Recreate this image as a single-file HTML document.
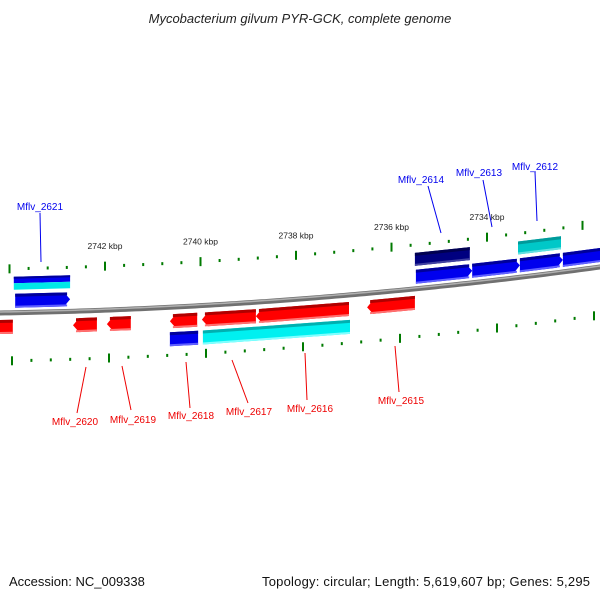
<!DOCTYPE html>
<html><head><meta charset="utf-8"><style>
body{margin:0;background:#fff;}
svg{display:block;font-family:"Liberation Sans","DejaVu Sans",sans-serif;}
</style></head><body>
<svg id="chart" width="600" height="600" viewBox="0 0 600 600" xmlns="http://www.w3.org/2000/svg">
<rect width="600" height="600" fill="#fff"/>
<text x="300" y="23" text-anchor="middle" font-size="13" font-style="italic" fill="#222">Mycobacterium gilvum PYR-GCK, complete genome</text>
<text x="9" y="586" font-size="13" fill="#111">Accession: NC_009338</text>
<text x="590" y="586" text-anchor="end" font-size="13" textLength="328" fill="#111">Topology: circular; Length: 5,619,607 bp; Genes: 5,295</text>
<g id="layer"></g>
</svg>
<script>
// tick labels (kbp)
const tickKb = [2744, 2742, 2740, 2738, 2736, 2734, 2732];
const tickLabels = ["", "2742 kbp", "2740 kbp", "2738 kbp", "2736 kbp", "2734 kbp", ""];
// genes: start/end kb, row, color, direction
const geneNames = ["Mflv_2621a","Mflv_2621","Mflv_2614a","Mflv_2614","Mflv_2613","Mflv_2612a","Mflv_2612","Mflv_2611","Mflv_2622","Mflv_2620","Mflv_2619","Mflv_2618","Mflv_2617","Mflv_2616","Mflv_2615","Mflv_2618b","Mflv_2616b"];
const geneStart = [2743.88,2743.91,2735.49,2735.51,2734.31,2733.31,2733.35,2732.41,2744.3,2742.67,2741.96,2740.64,2739.97,2738.84,2736.51,2740.64,2739.95];
const geneEnd   = [2742.73,2742.73,2734.31,2734.36,2733.31,2732.41,2732.45,2731.5,2743.93,2742.17,2741.46,2740.07,2738.84,2736.89,2735.51,2740.05,2736.87];
const geneRow   = [1,2,1,2,1,1,2,1,-1,-1,-1,-1,-1,-1,-1,-2,-2];
const geneColor = ["#0000ee","split","#0000ee","#000080","#0000ee","#0000ee","#00c8c8","#0000ee","#ff0000","#ff0000","#ff0000","#ff0000","#ff0000","#ff0000","#ff0000","#0000ee","#00f0f0"];
const geneArrow = [1,0,1,0,1,1,0,0,0,-1,-1,-1,-1,-1,-1,0,0];
// gene labels
const labelText = ["Mflv_2621","Mflv_2614","Mflv_2613","Mflv_2612","Mflv_2620","Mflv_2619","Mflv_2618","Mflv_2617","Mflv_2616","Mflv_2615"];
const labelSide = [1,1,1,1,-1,-1,-1,-1,-1,-1];
// label layout (pixels): leader from (ax,ay) to (bx,by), text at (tx,ty)
const labelLayout = [
 [41,262,40,213,40,210],[441,233,428,186,421,183],[492,227,483,180,479,176],[537,221,535,172,535,170],
 [86,367,77,413,75,425],[122,366,131,410,133,423],[186,362,190,408,191,419],[232,360,248,403,249,415],
 [305,353,307,400,310,412],[395,346,399,392,401,404]];

const NS="http://www.w3.org/2000/svg";
const layer=document.getElementById('layer');
function X(kb){return 105+(2742-kb)*47.75;}
function XL(kb){return 109+(2742-kb)*48.5;}
function Y(x){return 313-0.01667*x-0.0001*x*x;}
function mk(tag,attrs){const e=document.createElementNS(NS,tag);for(const k in attrs)e.setAttribute(k,attrs[k]);layer.appendChild(e);return e;}

// backbone
let d="";
for(let x=-5;x<=605;x+=5){d+=(x===-5?"M":"L")+x+","+Y(x).toFixed(2);}
const bb1=mk('path',{d:d,stroke:"#707070","stroke-width":5,fill:"none"});


const bb2=mk('path',{d:d,stroke:"#b0b0b0","stroke-width":1.5,fill:"none",transform:"translate(0,-1)"});



// ticks
for(let kb=2744.4;kb>=2731.2;kb-=0.4){
  const major=Math.abs((kb/2)-Math.round(kb/2))<0.01;
  const xu=X(kb), xl=XL(kb);
  const h=major?9:3;
  const tu=mk('rect',{x:xu-1,y:Y(xu)-44-h/2,width:2,height:h,fill:"#007a00"});
  
  
  const tl=mk('rect',{x:xl-1,y:Y(xl)+48-h/2,width:2,height:h,fill:"#007a00"});
  
  
}
tickKb.forEach((kb,i)=>{
  if(!tickLabels[i])return;
  const x=X(kb);
  const t=mk('text',{x:x,y:Y(x)-61,"text-anchor":"middle","font-size":8.5,fill:"#222"});
  t.textContent=tickLabels[i];
  
  
});

// genes
const rowOff={1:[-19,-5],2:[-36,-23],"-1":[7,21],"-2":[25,39]};
function quad(x1,x2,o1,o2,arrow){
  const a=Math.min(6,Math.abs(x2-x1)/3);
  const m=(o1+o2)/2;
  if(arrow===1){
    return [[x1,Y(x1)+o1],[x2-a,Y(x2-a)+o1],[x2,Y(x2)+m],[x2-a,Y(x2-a)+o2],[x1,Y(x1)+o2]];
  } else if(arrow===-1){
    return [[x1+a,Y(x1+a)+o1],[x2,Y(x2)+o1],[x2,Y(x2)+o2],[x1+a,Y(x1+a)+o2],[x1,Y(x1)+m]];
  }
  return [[x1,Y(x1)+o1],[x2,Y(x2)+o1],[x2,Y(x2)+o2],[x1,Y(x1)+o2]];
}
function pts(p){return p.map(q=>q[0].toFixed(1)+","+q[1].toFixed(1)).join(" ");}
function shade(c){return {"#0000ee":["#00009a","#6060ff"],"#000080":["#000050","#4040a0"],"#00c8c8":["#009a9a","#60e0e0"],"#ff0000":["#b00000","#ff7070"],"#00f0f0":["#00b0b0","#80ffff"]}[c];}
geneNames.forEach((n,i)=>{
  const xa=X(geneStart[i]), xb=X(geneEnd[i]);
  const x1=Math.min(xa,xb), x2=Math.max(xa,xb);
  const [o1,o2]=rowOff[geneRow[i]];
  const g=document.createElementNS(NS,'g');
  
  
  layer.appendChild(g);
  function add(c,p){const e=document.createElementNS(NS,'polygon');e.setAttribute('points',pts(p));e.setAttribute('fill',c);g.appendChild(e);}
  if(geneColor[i]==="split"){
    add("#0000ee",quad(x1,x2,o1,(o1+o2)/2,0));
    add("#00e8e8",quad(x1,x2,(o1+o2)/2,o2,0));
    add("#00009a",quad(x1,x2,o1,o1+2,0));
    return;
  }
  const c=geneColor[i],[dk,lt]=shade(c);
  add(c,quad(x1,x2,o1,o2,geneArrow[i]));
  add(dk,quad(x1+ (geneArrow[i]===-1?3:0),x2-(geneArrow[i]===1?3:0),o1,o1+3,0));
  add(lt,quad(x1+ (geneArrow[i]===-1?3:0),x2-(geneArrow[i]===1?3:0),o2-2,o2,0));
});

// labels
labelText.forEach((t,i)=>{
  const col=labelSide[i]===1?"#0000ee":"#ee0000";
  const L=labelLayout[i];
  const l=mk('line',{x1:L[0],y1:L[1],x2:L[2],y2:L[3],stroke:col,"stroke-width":1});
  
  
  const tx=mk('text',{x:L[4],y:L[5],"text-anchor":"middle","font-size":10,fill:col});
  tx.textContent=t;
  
  
});
</script>
</body></html>
